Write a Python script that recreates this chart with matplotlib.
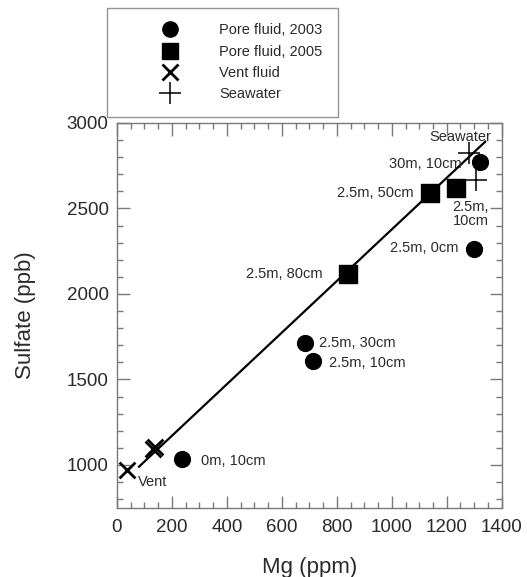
import matplotlib
matplotlib.use("Agg")
import matplotlib.pyplot as plt
from matplotlib.lines import Line2D
from matplotlib.ticker import MultipleLocator

# ── Data ──────────────────────────────────────────────────────────────────────
pore_2003_mg  = [235, 685, 715, 1300, 1320]
pore_2003_so4 = [1035, 1715, 1610, 2265, 2770]

pore_2005_mg  = [840, 1140, 1235]
pore_2005_so4 = [2115, 2590, 2620]

vent_mg  = [35, 130, 140]
vent_so4 = [970, 1095, 1105]

seawater_mg  = [1280, 1305]
seawater_so4 = [2825, 2665]

# mixing line end points
mix_mg  = [80, 1340]
mix_so4 = [990, 2890]

legend_labels = ["Pore fluid, 2003", "Pore fluid, 2005", "Vent fluid", "Seawater"]

# point labels: text, x, y, alignment
point_labels = [
    ("Seawater",    1250, 2918, "center"),
    ("30m, 10cm",   1254, 2760, "right"),
    ("2.5m, 50cm",  1078, 2591, "right"),
    ("2.5m,\n10cm", 1221, 2468, "left"),
    ("2.5m, 0cm",   1243, 2269, "right"),
    ("2.5m, 80cm",   749, 2117, "right"),
    ("2.5m, 30cm",   735, 1714, "left"),
    ("2.5m, 10cm",   771, 1597, "left"),
    ("0m, 10cm",     307, 1025, "left"),
    ("Vent",          77,  902, "left"),
]

# ── Style ─────────────────────────────────────────────────────────────────────
TEXT = "#2a2a2a"
FRAME = "#7a7a7a"
plt.rcParams.update({
    "font.family": ["Liberation Sans", "DejaVu Sans"],
    "text.color": TEXT,
    "axes.labelcolor": TEXT,
    "xtick.color": FRAME,
    "ytick.color": FRAME,
    "xtick.labelcolor": TEXT,
    "ytick.labelcolor": TEXT,
})

fig = plt.figure(figsize=(5.27, 5.77), dpi=100)
ax = fig.add_axes([0.222, 0.120, 0.730, 0.667])

ax.plot(mix_mg, mix_so4, color="black", linewidth=1.6, zorder=2)

ax.scatter(pore_2003_mg, pore_2003_so4, marker="o", s=130, color="black", zorder=3)
ax.scatter(pore_2005_mg, pore_2005_so4, marker="s", s=150, color="black", zorder=3)
ax.scatter(vent_mg, vent_so4, marker="x", s=130, color="black", linewidths=2.0, zorder=3)
ax.scatter(seawater_mg, seawater_so4, marker="+", s=260, color="black", linewidths=1.1, zorder=3)

for txt, x, y, ha in point_labels:
    ax.text(x, y, txt, ha=ha, va="center", fontsize=10.5, linespacing=1.0, color=TEXT)

ax.set_xlim(0, 1400)
ax.set_ylim(750, 3000)
ax.xaxis.set_major_locator(MultipleLocator(200))
ax.xaxis.set_minor_locator(MultipleLocator(50))
ax.yaxis.set_major_locator(MultipleLocator(500))
ax.yaxis.set_minor_locator(MultipleLocator(100))

ax.tick_params(which="both", direction="in", top=True, right=True, width=1.0)
ax.tick_params(which="major", length=9, labelsize=13.5)
ax.tick_params(axis="x", which="major", pad=8)
ax.tick_params(axis="y", which="major", pad=6)
ax.tick_params(which="minor", length=4)
for sp in ax.spines.values():
    sp.set_color(FRAME)
    sp.set_linewidth(1.0)

ax.set_xlabel("Mg (ppm)", fontsize=16, labelpad=15)
ax.set_ylabel("Sulfate (ppb)", fontsize=16, labelpad=22)

# ── Legend ────────────────────────────────────────────────────────────────────
handles = [
    Line2D([], [], marker="o", linestyle="none", color="black", markersize=11),
    Line2D([], [], marker="s", linestyle="none", color="black", markersize=12),
    Line2D([], [], marker="x", linestyle="none", color="black", markersize=11, markeredgewidth=2.0),
    Line2D([], [], marker="+", linestyle="none", color="black", markersize=16, markeredgewidth=1.1),
]
leg = fig.legend(handles, legend_labels, loc="upper left",
                 bbox_to_anchor=(0.203, 0.797, 0.438, 0.189), mode="expand",
                 borderaxespad=0, fontsize=10.5, frameon=True, fancybox=False,
                 borderpad=1.05, handlelength=6.5, handletextpad=0.16,
                 labelspacing=0.5)
leg.get_frame().set_edgecolor(FRAME)
leg.get_frame().set_linewidth(1.0)

fig.savefig("out.png", dpi=100)
